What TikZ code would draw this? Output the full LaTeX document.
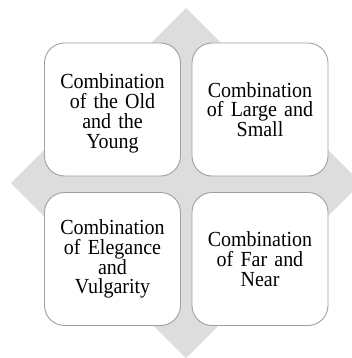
\documentclass[tikz,border=0pt]{standalone}
\usepackage{fontspec}
\setmainfont{Liberation Serif}[FakeStretch=0.93,WordSpace=0.65]
\definecolor{backgray}{RGB}{221,221,221}
\definecolor{edgegray}{RGB}{160,160,160}
\begin{document}
\begin{tikzpicture}
[x=1pt,y=-1pt,
 card/.style={draw=edgegray,line width=0.9pt,fill=white,rounded corners=20pt,
   minimum width=136pt,minimum height=133pt,inner sep=0pt,
   text width=130pt,align=center,
   font=\fontsize{21.5}{19.8}\selectfont}]
\useasboundingbox (0,0) rectangle (351,358);
\fill[backgray] (186,8) -- (361,183) -- (186,358) -- (11,183) -- cycle;

\node[card] (OY) at (112.5,109.5) {\rule{0pt}{22.5pt}Combination\\ of the Old\\ and the\\ Young};
\node[card] (LS) at (260,109.5) {Combination\\ of Large and\\ Small};
\node[card] (EV) at (112.5,259) {Combination\\ of Elegance\\ and\\ Vulgarity};
\node[card] (FN) at (260,259) {Combination\\ of Far and\\ Near};
\end{tikzpicture}
\end{document}
